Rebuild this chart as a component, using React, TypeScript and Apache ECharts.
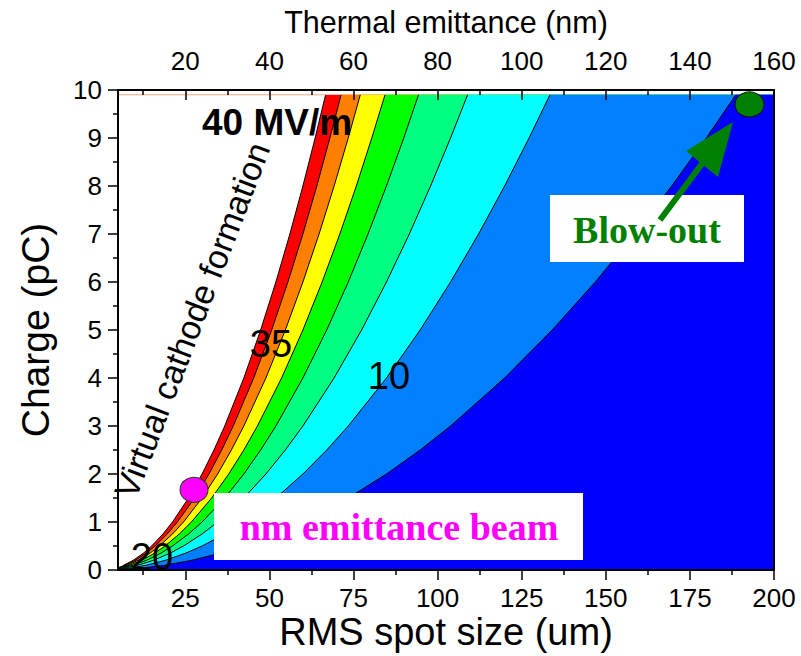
import React, { useEffect, useRef } from 'react';
import * as echarts from 'echarts';

// Charge values (pC) at which every iso-field contour is sampled
const chargeLevels = [0.05, 0.1, 0.2, 0.35, 0.5, 0.75, 1, 1.5, 2, 2.5, 3, 4, 5, 6, 7, 8, 9, 9.9];
// Upper edge of the computed charge range (pC)
const chargeTop = 9.9;

// Cathode field of each contour (MV/m), virtual-cathode limit first
const fieldLevels = [40, 35, 30, 25, 20, 15, 10, 5];
const fieldColors = ['#ff0000', '#ff8000', '#ffff00', '#00ff00', '#00ff80', '#00ffff', '#0080ff', '#0000ff'];

// RMS spot size (um) where each contour reaches the charge values above
const spot40 = [null, 6.70, 9.48, 12.54, 14.99, 18.36, 21.20, 25.96, 29.98, 33.52, 36.72, 42.40, 47.40, 51.93, 56.09, 59.96, 63.60, 66.70];
const spot35 = [5.07, 7.17, 10.13, 13.41, 16.02, 19.63, 22.66, 27.76, 32.05, 35.83, 39.25, 45.33, 50.68, 55.51, 59.96, 64.10, 67.99, 71.31];
const spot30 = [5.47, 7.74, 10.95, 14.48, 17.31, 21.20, 24.48, 29.98, 34.62, 38.70, 42.40, 48.96, 54.74, 59.96, 64.77, 69.24, 73.44, 77.02];
const spot25 = [6.00, 8.48, 11.99, 15.86, 18.96, 23.22, 26.81, 32.84, 37.92, 42.40, 46.44, 53.63, 59.96, 65.68, 70.94, 75.84, 80.44, 84.37];
const spot20 = [6.70, 9.48, 13.41, 17.74, 21.20, 25.96, 29.98, 36.72, 42.40, 47.40, 51.93, 59.96, 67.04, 73.44, 79.32, 84.80, 89.94, 94.33];
const spot15 = [7.74, 10.95, 15.48, 20.48, 24.48, 29.98, 34.62, 42.40, 48.96, 54.73, 59.96, 69.23, 77.41, 84.80, 91.59, 97.91, 103.85, 108.92];
const spot10 = [9.48, 13.41, 18.96, 25.08, 29.98, 36.72, 42.40, 51.93, 59.96, 67.04, 73.44, 84.80, 94.81, 103.85, 112.18, 119.92, 127.19, 133.40];
const spot5 = [13.41, 18.96, 26.81, 35.47, 42.40, 51.93, 59.96, 73.44, 84.80, 94.81, 103.86, 119.92, 134.07, 146.87, 158.64, 169.59, 179.88, 188.66];
const contourSpots = [spot40, spot35, spot30, spot25, spot20, spot15, spot10, spot5];

// Axis ranges and tick labels
const spotRange = [5, 200];
const spotTicks = [25, 50, 75, 100, 125, 150, 175, 200];
const spotMinorTicks = [12.5, 37.5, 62.5, 87.5, 112.5, 137.5, 162.5, 187.5];
const emitRange = [4, 160];
const emitTicks = [20, 40, 60, 80, 100, 120, 140, 160];
const emitMinorTicks = [10, 30, 50, 70, 90, 110, 130, 150];

// Marked operating points [spot size um, charge pC]
const nmBeamPoint = [27.6, 1.67];
const blowOutPoint = [192.7, 9.7];

const FONT = '"Liberation Sans", Arial, sans-serif';
const SERIF = '"Liberation Serif", "Times New Roman", serif';

export default function App() {
  const ref = useRef<HTMLDivElement>(null);

  useEffect(() => {
    if (!ref.current) return;
    const chart = echarts.init(ref.current, null, { renderer: 'svg' });

    const contours = contourSpots.map((spots) => {
      const pts: number[][] = [[spotRange[0], 0]];
      spots.forEach((s, j) => {
        if (s != null) pts.push([s, chargeLevels[j]]);
      });
      return pts;
    });

    const fills = contours.map((pts, i) => ({
      type: 'line',
      xAxisIndex: 0,
      yAxisIndex: 0,
      data: [...pts, [spotRange[1], chargeTop]],
      symbol: 'none',
      silent: true,
      lineStyle: { width: 0, opacity: 0 },
      areaStyle: { color: fieldColors[i], opacity: 1, origin: 'start' },
      z: 2,
    }));

    const lines = contours.map((pts) => ({
      type: 'line',
      xAxisIndex: 0,
      yAxisIndex: 0,
      data: pts,
      symbol: 'none',
      silent: true,
      lineStyle: { color: '#000', width: 1 },
      z: 3,
    }));

    const last40 = spot40[spot40.length - 1] as number;

    const axisLine = { show: true, lineStyle: { color: '#000', width: 2 } };
    const tickStyle = { color: '#000', width: 1.5 };

    chart.setOption({
      animation: false,
      backgroundColor: '#fff',
      textStyle: { fontFamily: FONT },
      grid: { left: 118, right: 27, top: 90, bottom: 86, containLabel: false, outerBoundsMode: 'none' },
      xAxis: [
        {
          type: 'value',
          position: 'bottom',
          min: spotRange[0],
          max: spotRange[1],
          z: 10,
          axisLine,
          splitLine: { show: false },
          axisTick: { show: true, inside: false, length: 10, lineStyle: tickStyle, customValues: spotTicks },
          axisLabel: { show: true, customValues: spotTicks, fontSize: 26, lineHeight: 26, color: '#000', margin: 15, fontFamily: FONT },
          name: 'RMS spot size (um)',
          nameLocation: 'middle',
          nameGap: 44,
          nameMoveOverlap: false,
          nameTextStyle: { fontSize: 38, lineHeight: 36, color: '#000', fontFamily: FONT },
        },
        {
          type: 'value',
          position: 'bottom',
          min: spotRange[0],
          max: spotRange[1],
          z: 10,
          axisLine: { show: false },
          splitLine: { show: false },
          axisTick: { show: true, inside: false, length: 5, lineStyle: tickStyle, customValues: spotMinorTicks },
          axisLabel: { show: false },
        },
        {
          type: 'value',
          position: 'top',
          min: emitRange[0],
          max: emitRange[1],
          z: 10,
          axisLine,
          splitLine: { show: false },
          axisTick: { show: true, inside: true, length: 10, lineStyle: tickStyle, customValues: emitTicks },
          axisLabel: { show: true, customValues: emitTicks, fontSize: 26, color: '#000', margin: 16, fontFamily: FONT },
          name: 'Thermal emittance (nm)',
          nameLocation: 'middle',
          nameGap: 53,
          nameMoveOverlap: false,
          nameTextStyle: { fontSize: 30.5, color: '#000', fontFamily: FONT },
        },
        {
          type: 'value',
          position: 'top',
          min: emitRange[0],
          max: emitRange[1],
          z: 10,
          axisLine: { show: false },
          splitLine: { show: false },
          axisTick: { show: true, inside: true, length: 5, lineStyle: tickStyle, customValues: emitMinorTicks },
          axisLabel: { show: false },
        },
      ],
      yAxis: [
        {
          type: 'value',
          position: 'left',
          min: 0,
          max: 10,
          interval: 1,
          z: 10,
          axisLine,
          splitLine: { show: false },
          axisTick: { show: true, inside: false, length: 10, lineStyle: tickStyle },
          minorTick: { show: true, splitNumber: 2, length: 5, lineStyle: tickStyle },
          axisLabel: { fontSize: 26, color: '#000', margin: 16, fontFamily: FONT },
          name: 'Charge (pC)',
          nameLocation: 'middle',
          nameGap: 63,
          nameRotate: 90,
          nameTextStyle: { fontSize: 39, color: '#000', fontFamily: FONT },
        },
        {
          type: 'value',
          position: 'right',
          min: 0,
          max: 10,
          z: 10,
          axisLine,
          splitLine: { show: false },
          axisTick: { show: false },
          axisLabel: { show: false },
        },
      ],
      series: [
        ...fills,
        ...lines,
        {
          type: 'line',
          data: [[spotRange[0], chargeTop], [last40, chargeTop]],
          symbol: 'none',
          silent: true,
          lineStyle: { color: '#f6a57c', width: 1 },
          z: 3,
        },
        {
          type: 'scatter',
          data: [nmBeamPoint],
          symbol: 'circle',
          symbolSize: [28, 25],
          itemStyle: { color: '#ff00ff', opacity: 1, borderColor: '#333', borderWidth: 1 },
          silent: true,
          z: 20,
        },
        {
          type: 'scatter',
          data: [blowOutPoint],
          symbol: 'circle',
          symbolSize: [29, 25],
          itemStyle: { color: '#008000', opacity: 1, borderColor: '#111', borderWidth: 1 },
          silent: true,
          z: 20,
        },
      ],
      graphic: [
        {
          type: 'text',
          x: 202,
          y: 122,
          z: 100,
          style: { text: `${fieldLevels[0]} MV/m`, fontSize: 37, fontWeight: 'bold', fontFamily: FONT, fill: '#000', textVerticalAlign: 'middle' },
        },
        {
          type: 'text',
          x: 192,
          y: 320,
          rotation: (69 * Math.PI) / 180,
          z: 100,
          style: { text: 'Virtual cathode formation', fontSize: 34, fontFamily: FONT, fill: '#000', textAlign: 'center', textVerticalAlign: 'middle' },
        },
        {
          type: 'text',
          x: 271,
          y: 344,
          z: 100,
          style: { text: String(fieldLevels[1]), fontSize: 38, fontFamily: FONT, fill: '#000', textAlign: 'center', textVerticalAlign: 'middle' },
        },
        {
          type: 'text',
          x: 389,
          y: 376,
          z: 100,
          style: { text: String(fieldLevels[6]), fontSize: 38, fontFamily: FONT, fill: '#000', textAlign: 'center', textVerticalAlign: 'middle' },
        },
        {
          type: 'text',
          x: 152,
          y: 557,
          z: 100,
          style: { text: String(fieldLevels[4]), fontSize: 38, fontFamily: FONT, fill: '#000', textAlign: 'center', textVerticalAlign: 'middle' },
        },
        {
          type: 'rect',
          z: 100,
          shape: { x: 214, y: 493, width: 369, height: 67 },
          style: { fill: '#fff' },
        },
        {
          type: 'text',
          x: 399,
          y: 527,
          z: 101,
          style: { text: 'nm emittance beam', fontSize: 38, fontWeight: 'bold', fontFamily: SERIF, fill: '#ff00ff', textAlign: 'center', textVerticalAlign: 'middle' },
        },
        {
          type: 'rect',
          z: 100,
          shape: { x: 550, y: 195, width: 194, height: 67 },
          style: { fill: '#fff' },
        },
        {
          type: 'text',
          x: 647,
          y: 230,
          z: 101,
          style: { text: 'Blow-out', fontSize: 38, fontWeight: 'bold', fontFamily: SERIF, fill: '#008000', textAlign: 'center', textVerticalAlign: 'middle' },
        },
        {
          type: 'line',
          z: 102,
          shape: { x1: 660, y1: 220, x2: 704, y2: 161 },
          style: { stroke: '#008000', lineWidth: 6 },
        },
        {
          type: 'polygon',
          z: 102,
          shape: { points: [[733, 122], [686, 151], [718, 177]] },
          style: { fill: '#008000' },
        },
      ],
    });

    return () => chart.dispose();
  }, []);

  return (
    <div
      ref={ref}
      style={{ position: 'absolute', left: 0, top: 0, width: 801, height: 656, background: '#fff' }}
    />
  );
}
